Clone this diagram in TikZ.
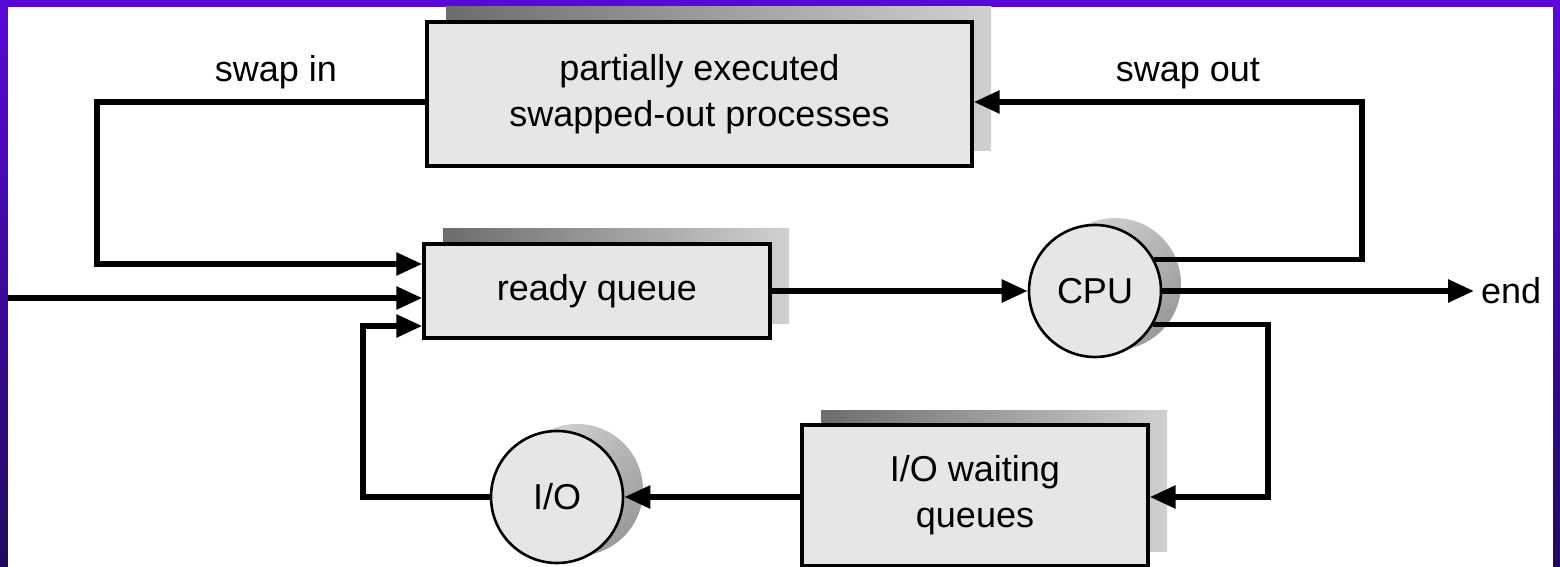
\documentclass[tikz,border=0pt]{standalone}
\usepackage{fontspec}
\setmainfont{Liberation Sans}
\usetikzlibrary{arrows.meta,shadows}
\definecolor{boxgray}{RGB}{230,230,230}
\definecolor{shadedark}{RGB}{108,108,108}
\definecolor{shadelight}{RGB}{208,208,208}
\definecolor{ringlight}{RGB}{210,210,210}
\definecolor{ringdark}{RGB}{155,155,155}
\definecolor{rimtop}{RGB}{90,8,218}
\definecolor{rimbottom}{RGB}{32,10,96}

\begin{document}
\begin{tikzpicture}[x=0.5pt,y=-0.5pt,>={Triangle[length=13pt,width=11pt]},
  font=\fontsize{18pt}{23pt}\selectfont,
  queuebox/.style={draw,line width=1.7pt,fill=boxgray,align=center,inner sep=0pt,
    general shadow={shadow xshift=9.5pt,shadow yshift=7.5pt,left color=shadedark,right color=shadelight}},
  devicecircle/.style={circle,draw,line width=1.3pt,fill=boxgray,minimum size=66pt,inner sep=0pt,
    general shadow={shadow xshift=10pt,shadow yshift=3.5pt,top color=ringlight,bottom color=ringdark,shading angle=45}},
  flow/.style={->,line width=2.8pt}]
\useasboundingbox (0,0) rectangle (1560,567);
% slide frame
\shade[top color=rimtop,bottom color=rimbottom] (0,0) rectangle (1560,567);
\fill[white] (8,7) rectangle (1553,567);

\node[queuebox,minimum width=272.5pt,minimum height=72pt] (swapped) at (699.5,94) {partially executed\\swapped-out processes};
\node[queuebox,minimum width=173pt,minimum height=47pt] (ready) at (597,291) {ready queue};
\node[queuebox,minimum width=173pt,minimum height=70.5pt] (waiting) at (975,495.5) {I/O waiting\\queues};
\node[devicecircle] (cpu) at (1095,291) {CPU};
\node[devicecircle] (io) at (557,497) {I/O};

\node[anchor=base] (swapinlabel) at (276,82) {swap in};
\node[anchor=base] (swapoutlabel) at (1188,82) {swap out};
\node[anchor=west] (endlabel) at (1474,291) {end};

\coordinate (newjob) at (8,298);
\coordinate (swapinleft) at (97,264);
\coordinate (swapoutright) at (1362,102);
\coordinate (iodown) at (1268,497);
\coordinate (ioback) at (363,497);

\draw[flow] ([yshift=-4pt]swapped.west) -| (swapinleft) -- ([yshift=13.5pt]ready.west);
\draw[flow] (newjob) -- ([yshift=-3.5pt]ready.west);
\draw[flow] (io.west) -- (ioback) |- ([yshift=-17.5pt]ready.west);
\draw[flow] (ready.east) -- (cpu.west);
\draw[flow] (cpu.28) -| (swapoutright) -- ([yshift=-4pt]swapped.east);
\draw[flow] (cpu.east) -- (endlabel.west);
\draw[flow] (cpu.-30) -| (iodown) -- (waiting.east |- iodown);
\draw[flow] (waiting.west |- io) -- (io.east);
\end{tikzpicture}
\end{document}
